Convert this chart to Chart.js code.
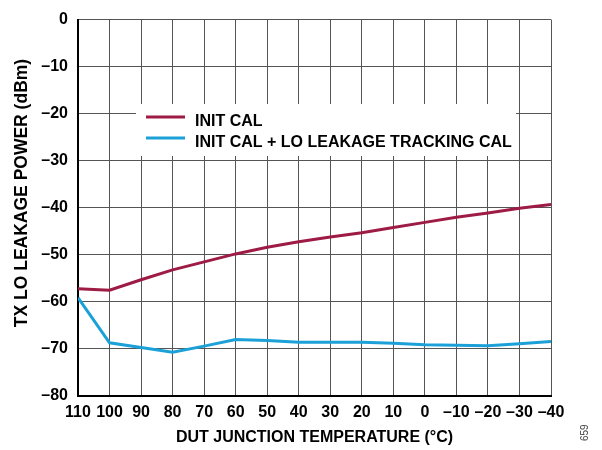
<!DOCTYPE html>
<html>
<head>
<meta charset="utf-8">
<script src="https://cdn.jsdelivr.net/npm/chart.js@4/dist/chart.umd.min.js"></script>
<style>
  html, body { margin: 0; padding: 0; background: #fff; }
  #wrap { width: 602px; height: 450px; }
</style>
</head>
<body>
<div id="wrap"><canvas id="c" width="602" height="450"></canvas></div>
<script>
// temperatures, read left to right (axis is reversed)
const temps = [110, 100, 90, 80, 70, 60, 50, 40, 30, 20, 10, 0, -10, -20, -30, -40];

const initCal = [-57.2, -57.5, -55.3, -53.2, -51.5, -49.8, -48.4, -47.2, -46.2, -45.3, -44.2, -43.1, -42.0, -41.1, -40.1, -39.3];
const trackCal = [-59.1, -68.7, -69.7, -70.7, -69.4, -68.0, -68.2, -68.6, -68.6, -68.6, -68.8, -69.1, -69.2, -69.3, -68.9, -68.4];

const seriesNames = ['INIT CAL', 'INIT CAL + LO LEAKAGE TRACKING CAL'];
const seriesColors = ['#9E1B45', '#1BA1D8'];
const yTitle = 'TX LO LEAKAGE POWER (dBm)';

const FONT = 'Liberation Sans, Arial, sans-serif';

function toPoints(ys) {
  return temps.map((t, i) => ({ x: t, y: ys[i] }));
}

function dash(v) {
  return v < 0 ? '\u2013' + Math.abs(v) : String(v);
}

// legend drawn inside the plot on a white box, plus y title (sits a bit above centre)
const boxLegend = {
  id: 'boxLegend',
  beforeDatasetsDraw(chart) {
    const ctx = chart.ctx;
    ctx.save();
    ctx.fillStyle = '#fff';
    ctx.fillRect(136, 104, 380, 52);
    ctx.font = 'bold 16px ' + FONT;
    ctx.textBaseline = 'alphabetic';
    chart.data.datasets.forEach((ds, i) => {
      let y = 117 + i * 21;
      ctx.strokeStyle = ds.borderColor;
      ctx.lineWidth = 3;
      ctx.beginPath();
      ctx.moveTo(146, y);
      ctx.lineTo(185, y);
      ctx.stroke();
      ctx.fillStyle = '#000';
      ctx.fillText(ds.label, 195, y + 9);
    });
    ctx.restore();
  },
  afterDraw(chart) {
    const ctx = chart.ctx;
    ctx.save();
    ctx.translate(22, 193);
    ctx.rotate(-Math.PI / 2);
    ctx.font = 'bold 17.5px ' + FONT;
    ctx.fillStyle = '#000';
    ctx.textAlign = 'center';
    ctx.textBaseline = 'middle';
    ctx.fillText(yTitle, 0, 0);
    ctx.restore();

    ctx.save();
    ctx.translate(588, 441);
    ctx.rotate(-Math.PI / 2);
    ctx.font = '10px ' + FONT;
    ctx.fillStyle = '#444';
    ctx.fillText('659', 0, 0);
    ctx.restore();
  }
};

new Chart(document.getElementById('c'), {
  type: 'line',
  data: {
    datasets: [
      { label: seriesNames[0], data: toPoints(initCal), borderColor: seriesColors[0] },
      { label: seriesNames[1], data: toPoints(trackCal), borderColor: seriesColors[1] }
    ]
  },
  options: {
    responsive: false,
    animation: false,
    layout: { padding: { top: 16, right: 51, left: 0, bottom: 0 } },
    elements: {
      line: { borderWidth: 3, tension: 0, fill: false },
      point: { radius: 0 }
    },
    plugins: {
      legend: { display: false },
      tooltip: { enabled: false }
    },
    scales: {
      x: {
        type: 'linear',
        reverse: true,
        min: -40,
        max: 110,
        afterFit: (s) => { s.height = 54; },
        border: { color: '#000', width: 2 },
        grid: { color: '#555', lineWidth: 1, drawTicks: false },
        ticks: {
          stepSize: 10,
          padding: 7,
          autoSkip: false,
          maxRotation: 0,
          color: '#000',
          font: { family: FONT, size: 16, weight: 'bold' },
          callback: (v) => dash(v)
        },
        title: {
          display: true,
          text: 'DUT JUNCTION TEMPERATURE (°C)',
          color: '#000',
          font: { family: FONT, size: 16, weight: 'bold' },
          padding: { top: 4, bottom: 3 }
        }
      },
      y: {
        min: -80,
        max: 0,
        afterFit: (s) => { s.width = 78; },
        border: { color: '#000', width: 2 },
        grid: { color: '#555', lineWidth: 1, drawTicks: false },
        ticks: {
          stepSize: 10,
          padding: 10,
          color: '#000',
          font: { family: FONT, size: 16, weight: 'bold' },
          callback: (v) => dash(v)
        }
      }
    }
  },
  plugins: [boxLegend]
});
</script>
</body>
</html>
